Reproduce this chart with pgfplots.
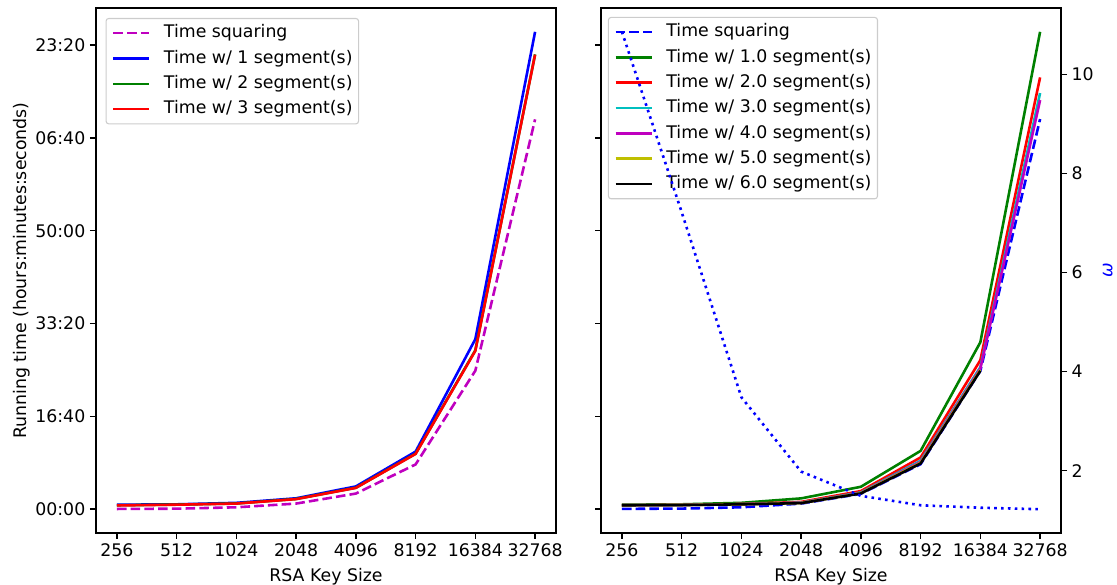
\documentclass[border=0pt]{standalone}
\usepackage{pgfplots}
\pgfplotsset{compat=1.18}
\usepackage{fontspec}
\setmainfont{DejaVu Sans}

\definecolor{mplg}{rgb}{0,0.5,0}
\definecolor{mplc}{rgb}{0,0.75,0.75}
\definecolor{mplm}{rgb}{0.75,0,0.75}
\definecolor{mply}{rgb}{0.75,0.75,0}

\pgfplotsset{
  base/.style={
    scale only axis, width=345pt, height=393.75pt,
    anchor=south west,
    xmin=-0.35, xmax=7.35,
    tick align=outside, major tick length=4.5pt,
    every tick/.style={black, line width=1.03pt},
    axis line style={line width=1.03pt},
    every axis plot/.append style={line width=1.94pt},
  },
  timeaxis/.style={
    base,
    ymin=-257, ymax=5400,
    xtick={0,...,7},
    xticklabels={256,512,1024,2048,4096,8192,16384,32768},
    ytick={0,1000,2000,3000,4000,5000},
    xtick pos=left, ytick pos=left,
    legend cell align=left,
    legend image code/.code={\draw[##1, line width=1.94pt] (0pt,0pt) -- (27pt,0pt);},
    legend style={anchor=north west, draw=black!20, line width=0.8pt,
      rounded corners=2pt, fill=white, fill opacity=0.8, text opacity=1,
      inner sep=4.5pt, row sep=6pt, column sep=10pt,
      nodes={inner sep=0pt, text height=10pt, text depth=3pt}},
    xlabel={RSA Key Size},
    xlabel style={yshift=-2pt},
    ylabel style={yshift=-3pt},
  },
  dsh/.style={dash pattern=on 7.2pt off 3.1pt},
  dot/.style={dash pattern=on 1.94pt off 3.2pt},
}

\begin{document}
\begin{tikzpicture}[font=\fontsize{13}{15.6}\selectfont]
\useasboundingbox (0,0) rectangle (837.75pt,438.75pt);

% ---------------- Left panel ----------------
\begin{axis}[timeaxis, at={(72pt,39pt)},
  yticklabels={00:00,16:40,33:20,50:00,06:40,23:20},
  ylabel={Running time (hours:minutes:seconds)},
  legend style={at={(0.0207,0.981)}},
]
\addplot[mplm, dsh] coordinates {(0,2) (1,5) (2,20) (3,60) (4,168) (5,482) (6,1492) (7,4200)};
\addlegendentry{Time squaring}
\addplot[blue] coordinates {(0,48) (1,52) (2,68) (3,117) (4,245) (5,620) (6,1832) (7,5143)};
\addlegendentry{Time w/ 1 segment(s)}
\addplot[mplg] coordinates {(0,42) (1,49) (2,61) (3,110) (4,231) (5,598) (6,1712) (7,4900)};
\addlegendentry{Time w/ 2 segment(s)}
\addplot[red] coordinates {(0,40) (1,48) (2,60) (3,108) (4,229) (5,595) (6,1706) (7,4897)};
\addlegendentry{Time w/ 3 segment(s)}
\end{axis}

% ---------------- Right panel ----------------
\begin{axis}[timeaxis, at={(450.75pt,39pt)},
  yticklabels={,,,,,},
  legend style={at={(0.015,0.983)}},
]
\addplot[blue, dsh] coordinates {(0,3) (1,6) (2,20) (3,60) (4,165) (5,485) (6,1490) (7,4203)};
\addlegendentry{Time squaring}
\addplot[mplg] coordinates {(0,48) (1,52) (2,68) (3,116) (4,241) (5,628) (6,1798) (7,5143)};
\addlegendentry{Time w/ 1.0 segment(s)}
\addplot[red] coordinates {(0,42) (1,46) (2,56) (3,78) (4,195) (5,557) (6,1605) (7,4652)};
\addlegendentry{Time w/ 2.0 segment(s)}
\addplot[mplc] coordinates {(0,42) (1,45) (2,54) (3,70) (4,180) (5,522) (6,1530) (7,4483)};
\addlegendentry{Time w/ 3.0 segment(s)}
\addplot[mplm] coordinates {(0,42) (1,45) (2,53) (3,68) (4,175) (5,510) (6,1515) (7,4407)};
\addlegendentry{Time w/ 4.0 segment(s)}
\addplot[mply] coordinates {(0,42) (1,45) (2,52) (3,66) (4,172) (5,500) (6,1500)};
\addlegendentry{Time w/ 5.0 segment(s)}
\addplot[black] coordinates {(0,42) (1,44) (2,52) (3,65) (4,169) (5,492) (6,1490)};
\addlegendentry{Time w/ 6.0 segment(s)}
\end{axis}

% ---------------- Twin axis (omega) ----------------
\begin{axis}[base, at={(450.75pt,39pt)},
  ymin=0.74, ymax=11.34,
  axis y line*=right, axis x line=none,
  ytick={2,4,6,8,10}, yticklabels={2,4,6,8,10},
  ylabel={\textit{ω}}, ylabel style={blue},
]
\addplot[blue, dot] coordinates {(0,10.86) (1,7.22) (2,3.48) (3,1.98) (4,1.49) (5,1.30) (6,1.25) (7,1.22)};
\end{axis}
\end{tikzpicture}
\end{document}
